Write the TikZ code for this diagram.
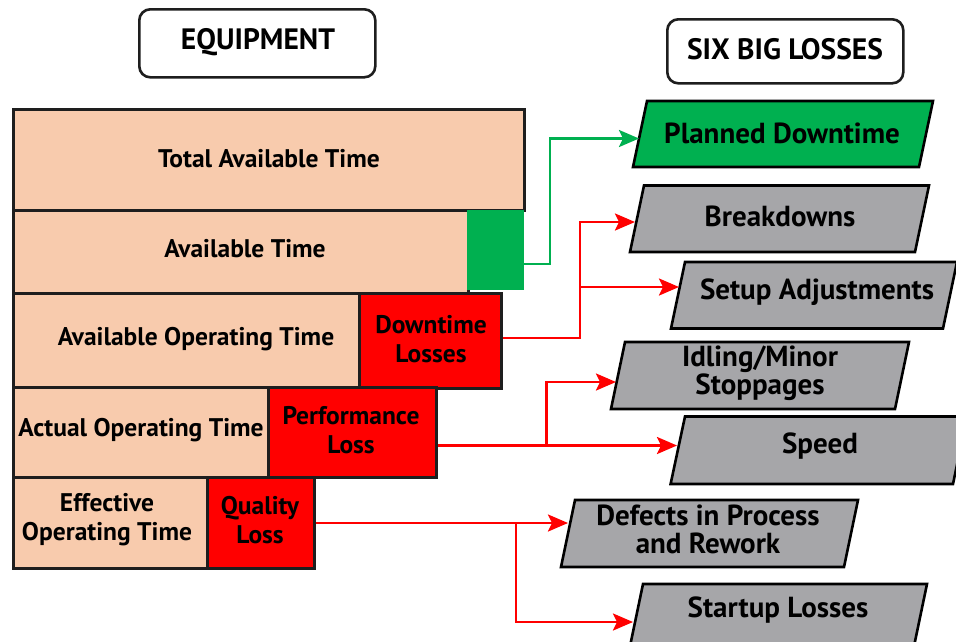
\documentclass[tikz,border=0pt]{standalone}
\usepackage{fontspec}
\setmainfont{PT Sans}
\usetikzlibrary{arrows.meta}
\definecolor{peach}{HTML}{F8CBAD}
\definecolor{lgreen}{HTML}{00B050}
\definecolor{lred}{HTML}{FF0000}
\definecolor{lgray}{HTML}{A6A6A9}
\definecolor{edge}{HTML}{1E1E1E}
\begin{document}
\begin{tikzpicture}[x=1pt,y=-1pt,
  txt/.style={font=\fontsize{25.5}{29}\selectfont\bfseries, align=center, inner sep=0pt, text=black},
  rtxt/.style={font=\fontsize{29}{28}\selectfont\bfseries, align=center, inner sep=0pt, text=black},
  ttl/.style={font=\fontsize{29.5}{32}\selectfont\bfseries, inner sep=0pt, text=black},
  titlebox/.style={draw=edge, line width=2.6pt, rounded corners=11pt, fill=white, inner sep=0pt, anchor=north west},
  bar/.style={draw=edge, line width=2.6pt, fill=peach, inner sep=0pt, anchor=north west},
  lossbox/.style={draw=edge, line width=2.6pt, fill=lred, inner sep=0pt, anchor=north west},
  pbox/.style={draw=black, line width=2.6pt, line join=miter},
  gline/.style={draw=lgreen, line width=2.6pt, -{Stealth[length=20pt,width=17pt,inset=4pt]}},
  rline/.style={draw=lred, line width=2.6pt, -{Stealth[length=20pt,width=17pt,inset=4pt]}},
]
\useasboundingbox (0,0) rectangle (956,641);
\clip (0,0) rectangle (956,641);
\fill[white] (0,0) rectangle (956,641);

% title boxes
\node[titlebox, minimum width=236pt, minimum height=68pt] (eqb) at (138,8) {};
\node[ttl] (eqt) at (258,42) {EQUIPMENT};
\node[titlebox, minimum width=236pt, minimum height=64pt] (sbb) at (666,18) {};
\node[ttl] (sbt) at (785,49) {SIX BIG LOSSES};

% bars
\node[bar, minimum width=511pt, minimum height=101pt] (tat) at (12,108) {};
\node[bar, minimum width=455pt, minimum height=84pt] (at) at (12,209) {};
\node[fill=lgreen, inner sep=0pt, anchor=north west, minimum width=57pt, minimum height=80pt] (gb) at (467,209.5) {};
\node[bar, minimum width=346pt, minimum height=94pt] (aot) at (12,292) {};
\node[lossbox, minimum width=142pt, minimum height=95pt] (dl) at (358,292) {};
\node[bar, minimum width=255pt, minimum height=90pt] (act) at (12,386) {};
\node[lossbox, minimum width=168pt, minimum height=90pt] (pl) at (267,386) {};
\node[bar, minimum width=194pt, minimum height=91pt] (eot) at (12,476) {};
\node[lossbox, minimum width=107pt, minimum height=91pt] (ql) at (206,476) {};

\node[txt] (tatt) at (269,159) {Total Available Time};
\node[txt] (att) at (245,249) {Available Time};
\node[txt] (aott) at (196,339) {Available Operating Time};
\node[txt] (dlt) at (431,339) {Downtime\\Losses};
\node[txt] (actt) at (141,430) {Actual Operating Time};
\node[txt] (plt) at (351,430) {Performance\\Loss};
\node[txt] (eott) at (107,520) {Effective\\Operating Time};
\node[txt] (qlt) at (260,520) {Quality\\Loss};

% parallelograms
\draw[pbox, fill=lgreen] (633,167) -- (647,101) -- (933,101) -- (919,167) -- cycle;
\node[rtxt] (pdt) at (782,133) {Planned Downtime};
\draw[pbox, fill=lgray] (630,252) -- (644,185.5) -- (929,185.5) -- (915,252) -- cycle;
\node[rtxt] (bdt) at (780,216) {Breakdowns};
\draw[pbox, fill=lgray] (671,328.5) -- (685,262) -- (957,262) -- (943,328.5) -- cycle;
\node[rtxt] (sat) at (817,292) {Setup Adjustments};
\draw[pbox, fill=lgray] (611,409) -- (625,342) -- (909,342) -- (895,409) -- cycle;
\node[rtxt] (imt) at (760,373) {Idling/Minor\\Stoppages};
\draw[pbox, fill=lgray] (670.6,484) -- (685,416.5) -- (967,416.5) -- (953,484) -- cycle;
\node[rtxt] (spt) at (820,446) {Speed};
\draw[pbox, fill=lgray] (561,567) -- (575,500) -- (858,500) -- (844,567) -- cycle;
\node[rtxt] (dft) at (708,529) {Defects in Process\\and Rework};
\draw[pbox, fill=lgray] (629,651) -- (643,584) -- (927,584) -- (913,651) -- cycle;
\node[rtxt] (slt) at (778,610) {Startup Losses};

% connector targets
\coordinate (pdin) at (639,138.5);
\coordinate (bdin) at (635,222);
\coordinate (sain) at (679,287);
\coordinate (imin) at (616,382);
\coordinate (spin) at (677,445.5);
\coordinate (dfin) at (568,523);
\coordinate (slin) at (633,622);
\coordinate (g1) at (550,264);
\coordinate (r1) at (580,338);
\coordinate (r2) at (546.5,445.5);
\coordinate (r3) at (516,523);

% connectors
\draw[gline] (gb.east |- g1) -- (g1) |- (pdin);
\draw[rline] (dl.east |- r1) -- (r1) |- (bdin);
\draw[rline] (r1) |- (sain);
\draw[rline] (pl.east |- r2) -- (spin);
\draw[rline] (r2) |- (imin);
\draw[rline] (ql.east |- r3) -- (dfin);
\draw[rline] (r3) |- (slin);
\end{tikzpicture}
\end{document}
